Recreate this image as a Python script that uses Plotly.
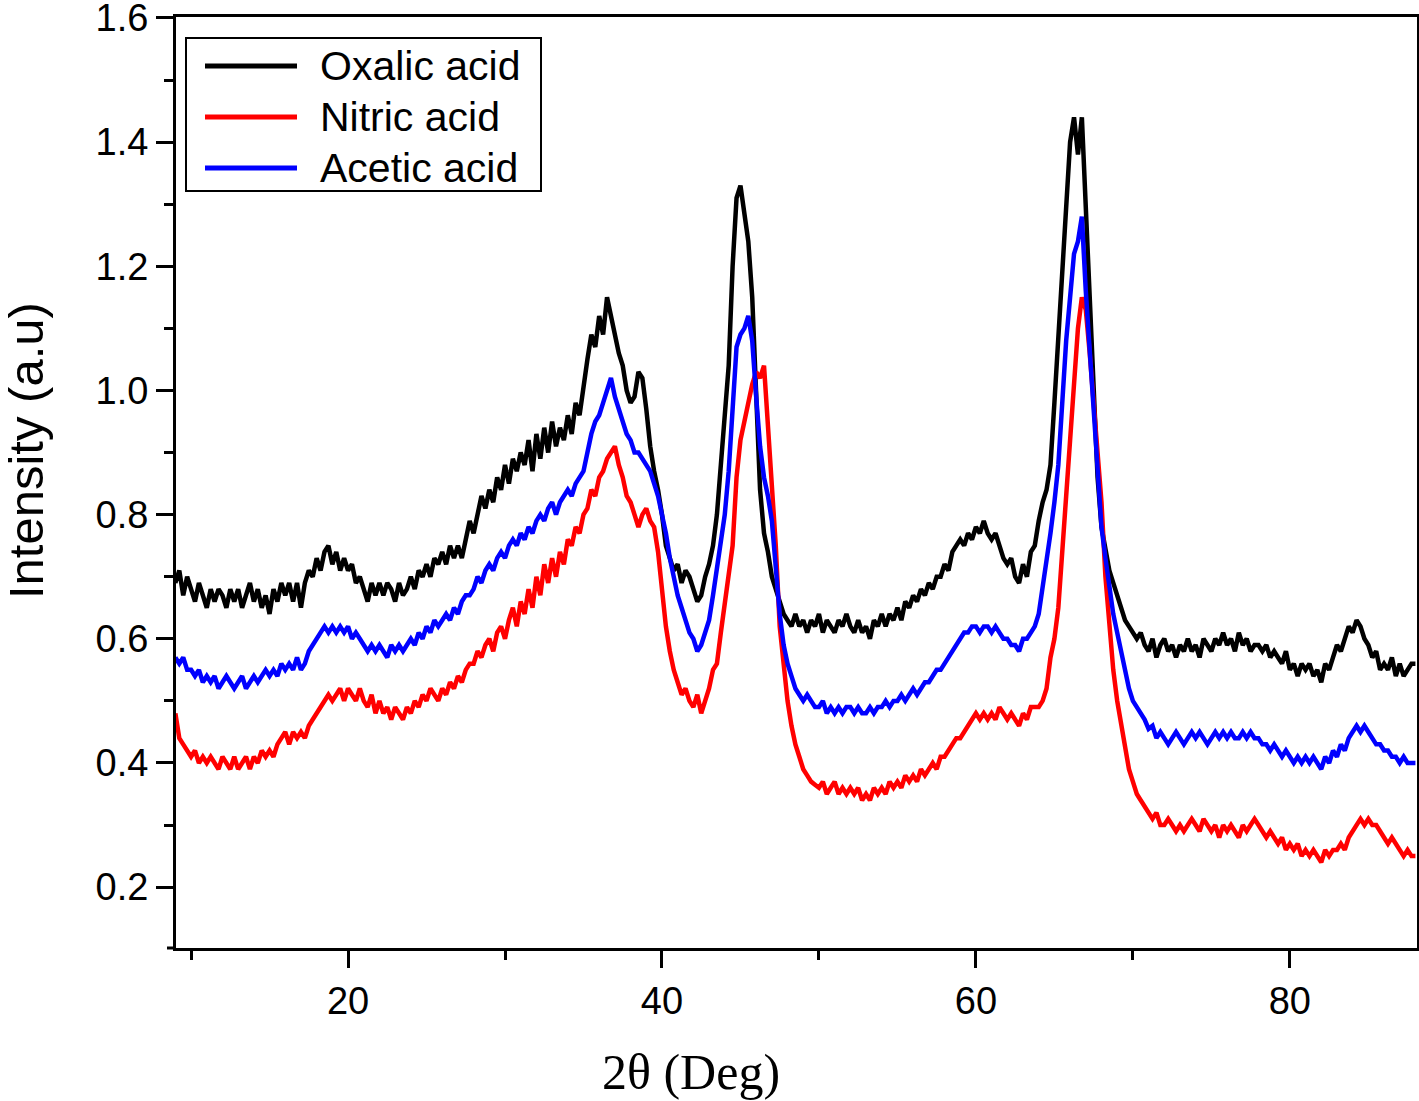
import plotly.graph_objects as go

# ---------------- data ----------------
two_theta_start, two_theta_step, n_points = 9.0, 0.25, 317
two_theta = [two_theta_start + two_theta_step * i for i in range(n_points)]

series_names = ["Oxalic acid", "Nitric acid", "Acetic acid"]
series_colors = ["#000000", "#ff0000", "#0000ff"]

oxalic = [
    0.69, 0.71, 0.67, 0.70,  # 9
    0.68, 0.66, 0.69, 0.67,  # 10
    0.65, 0.68, 0.66, 0.68,  # 11
    0.67, 0.65, 0.68, 0.66,  # 12
    0.68, 0.65, 0.67, 0.69,  # 13
    0.66, 0.68, 0.65, 0.67,  # 14
    0.64, 0.68, 0.66, 0.69,  # 15
    0.67, 0.69, 0.66, 0.69,  # 16
    0.65, 0.69, 0.71, 0.70,  # 17
    0.73, 0.71, 0.74, 0.75,  # 18
    0.72, 0.74, 0.71, 0.73,  # 19
    0.71, 0.72, 0.69, 0.70,  # 20
    0.68, 0.66, 0.69, 0.67,  # 21
    0.69, 0.67, 0.69, 0.68,  # 22
    0.66, 0.69, 0.67, 0.68,  # 23
    0.70, 0.68, 0.71, 0.70,  # 24
    0.72, 0.70, 0.73, 0.72,  # 25
    0.74, 0.72, 0.75, 0.73,  # 26
    0.75, 0.73, 0.76, 0.79,  # 27
    0.77, 0.80, 0.83, 0.81,  # 28
    0.84, 0.82, 0.86, 0.84,  # 29
    0.88, 0.85, 0.89, 0.87,  # 30
    0.90, 0.88, 0.92, 0.87,  # 31
    0.93, 0.89, 0.94, 0.90,  # 32
    0.95, 0.91, 0.94, 0.92,  # 33
    0.96, 0.93, 0.98, 0.96,  # 34
    1.01, 1.05, 1.09, 1.07,  # 35
    1.12, 1.09, 1.15, 1.12,  # 36
    1.09, 1.06, 1.04, 1.00,  # 37
    0.98, 0.99, 1.03, 1.02,  # 38
    0.97, 0.91, 0.87, 0.84,  # 39
    0.80, 0.75, 0.73, 0.71,  # 40
    0.72, 0.69, 0.71, 0.70,  # 41
    0.68, 0.66, 0.67, 0.70,  # 42
    0.72, 0.75, 0.80, 0.88,  # 43
    0.95, 1.04, 1.20, 1.31,  # 44
    1.33, 1.29, 1.24, 1.15,  # 45
    0.98, 0.84, 0.77, 0.74,  # 46
    0.70, 0.68, 0.66, 0.64,  # 47
    0.63, 0.62, 0.64, 0.62,  # 48
    0.63, 0.61, 0.63, 0.62,  # 49
    0.64, 0.61, 0.63, 0.62,  # 50
    0.61, 0.63, 0.62, 0.64,  # 51
    0.62, 0.61, 0.63, 0.61,  # 52
    0.62, 0.60, 0.63, 0.62,  # 53
    0.64, 0.62, 0.64, 0.63,  # 54
    0.65, 0.63, 0.66, 0.65,  # 55
    0.67, 0.66, 0.68, 0.67,  # 56
    0.69, 0.68, 0.70, 0.70,  # 57
    0.72, 0.71, 0.74, 0.75,  # 58
    0.76, 0.75, 0.77, 0.76,  # 59
    0.78, 0.77, 0.79, 0.77,  # 60
    0.76, 0.77, 0.75, 0.73,  # 61
    0.72, 0.73, 0.70, 0.69,  # 62
    0.72, 0.70, 0.74, 0.75,  # 63
    0.79, 0.82, 0.84, 0.88,  # 64
    0.98, 1.08, 1.18, 1.30,  # 65
    1.40, 1.44, 1.38, 1.44,  # 66
    1.30, 1.12, 0.98, 0.86,  # 67
    0.78, 0.74, 0.71, 0.69,  # 68
    0.67, 0.65, 0.63, 0.62,  # 69
    0.61, 0.60, 0.61, 0.59,  # 70
    0.58, 0.60, 0.57, 0.59,  # 71
    0.60, 0.58, 0.59, 0.57,  # 72
    0.59, 0.58, 0.60, 0.58,  # 73
    0.59, 0.57, 0.60, 0.59,  # 74
    0.58, 0.60, 0.59, 0.61,  # 75
    0.59, 0.60, 0.58, 0.61,  # 76
    0.59, 0.60, 0.58, 0.59,  # 77
    0.59, 0.58, 0.59, 0.57,  # 78
    0.58, 0.57, 0.56, 0.58,  # 79
    0.55, 0.56, 0.54, 0.56,  # 80
    0.55, 0.56, 0.54, 0.55,  # 81
    0.53, 0.56, 0.55, 0.57,  # 82
    0.59, 0.58, 0.60, 0.62,  # 83
    0.61, 0.63, 0.62, 0.60,  # 84
    0.59, 0.57, 0.58, 0.55,  # 85
    0.56, 0.55, 0.57, 0.54,  # 86
    0.56, 0.54, 0.55, 0.56,  # 87
    0.56,                    # 88
]

nitric = [
    0.48, 0.44, 0.43, 0.42,  # 9
    0.41, 0.42, 0.40, 0.41,  # 10
    0.40, 0.41, 0.40, 0.39,  # 11
    0.41, 0.40, 0.39, 0.41,  # 12
    0.39, 0.40, 0.41, 0.39,  # 13
    0.41, 0.40, 0.42, 0.41,  # 14
    0.42, 0.41, 0.43, 0.44,  # 15
    0.45, 0.43, 0.45, 0.44,  # 16
    0.45, 0.44, 0.46, 0.47,  # 17
    0.48, 0.49, 0.50, 0.51,  # 18
    0.50, 0.51, 0.52, 0.50,  # 19
    0.52, 0.51, 0.50, 0.52,  # 20
    0.50, 0.49, 0.51, 0.48,  # 21
    0.50, 0.48, 0.49, 0.47,  # 22
    0.49, 0.48, 0.47, 0.49,  # 23
    0.48, 0.50, 0.49, 0.51,  # 24
    0.50, 0.52, 0.51, 0.50,  # 25
    0.52, 0.51, 0.53, 0.52,  # 26
    0.54, 0.53, 0.55, 0.56,  # 27
    0.56, 0.58, 0.57, 0.59,  # 28
    0.60, 0.58, 0.61, 0.62,  # 29
    0.60, 0.63, 0.65, 0.62,  # 30
    0.66, 0.64, 0.68, 0.65,  # 31
    0.70, 0.67, 0.72, 0.69,  # 32
    0.73, 0.70, 0.74, 0.72,  # 33
    0.76, 0.75, 0.78, 0.77,  # 34
    0.80, 0.81, 0.84, 0.83,  # 35
    0.86, 0.87, 0.89, 0.90,  # 36
    0.91, 0.88, 0.86, 0.83,  # 37
    0.82, 0.80, 0.78, 0.80,  # 38
    0.81, 0.79, 0.78, 0.74,  # 39
    0.68, 0.62, 0.58, 0.55,  # 40
    0.53, 0.51, 0.52, 0.50,  # 41
    0.49, 0.51, 0.48, 0.50,  # 42
    0.52, 0.55, 0.56, 0.61,  # 43
    0.66, 0.70, 0.75, 0.86,  # 44
    0.92, 0.95, 0.98, 1.01,  # 45
    1.03, 1.02, 1.04, 0.95,  # 46
    0.85, 0.75, 0.62, 0.55,  # 47
    0.50, 0.46, 0.43, 0.41,  # 48
    0.39, 0.38, 0.37, 0.365,  # 49
    0.36, 0.37, 0.35, 0.36,  # 50
    0.37, 0.35, 0.36, 0.35,  # 51
    0.36, 0.35, 0.36, 0.34,  # 52
    0.35, 0.34, 0.36, 0.35,  # 53
    0.36, 0.35, 0.37, 0.36,  # 54
    0.37, 0.36, 0.38, 0.37,  # 55
    0.38, 0.37, 0.39, 0.38,  # 56
    0.39, 0.40, 0.39, 0.41,  # 57
    0.41, 0.42, 0.43, 0.44,  # 58
    0.44, 0.45, 0.46, 0.47,  # 59
    0.48, 0.47, 0.48, 0.47,  # 60
    0.48, 0.47, 0.49, 0.48,  # 61
    0.47, 0.48, 0.47, 0.46,  # 62
    0.48, 0.47, 0.49, 0.49,  # 63
    0.49, 0.50, 0.52, 0.57,  # 64
    0.60, 0.65, 0.75, 0.83,  # 65
    0.92, 1.02, 1.10, 1.15,  # 66
    1.13, 1.06, 0.98, 0.90,  # 67
    0.82, 0.70, 0.62, 0.55,  # 68
    0.50, 0.46, 0.42, 0.39,  # 69
    0.37, 0.35, 0.34, 0.33,  # 70
    0.32, 0.31, 0.32, 0.30,  # 71
    0.30, 0.31, 0.30, 0.29,  # 72
    0.30, 0.29, 0.30, 0.31,  # 73
    0.30, 0.29, 0.31, 0.30,  # 74
    0.29, 0.30, 0.28, 0.30,  # 75
    0.29, 0.30, 0.29, 0.28,  # 76
    0.30, 0.29, 0.30, 0.31,  # 77
    0.30, 0.29, 0.28, 0.29,  # 78
    0.28, 0.27, 0.28, 0.26,  # 79
    0.27, 0.26, 0.27, 0.25,  # 80
    0.26, 0.25, 0.26, 0.25,  # 81
    0.24, 0.26, 0.25, 0.26,  # 82
    0.26, 0.27, 0.26, 0.28,  # 83
    0.29, 0.30, 0.31, 0.30,  # 84
    0.31, 0.30, 0.30, 0.29,  # 85
    0.28, 0.27, 0.28, 0.27,  # 86
    0.26, 0.25, 0.26, 0.25,  # 87
    0.25,                    # 88
]

acetic = [
    0.57, 0.56, 0.57, 0.55,  # 9
    0.55, 0.54, 0.55, 0.53,  # 10
    0.54, 0.53, 0.54, 0.52,  # 11
    0.53, 0.54, 0.53, 0.52,  # 12
    0.53, 0.54, 0.52, 0.53,  # 13
    0.54, 0.53, 0.54, 0.55,  # 14
    0.54, 0.55, 0.54, 0.56,  # 15
    0.55, 0.56, 0.55, 0.57,  # 16
    0.55, 0.56, 0.58, 0.59,  # 17
    0.60, 0.61, 0.62, 0.61,  # 18
    0.62, 0.61, 0.62, 0.61,  # 19
    0.62, 0.60, 0.61, 0.60,  # 20
    0.59, 0.58, 0.59, 0.58,  # 21
    0.59, 0.58, 0.57, 0.59,  # 22
    0.58, 0.59, 0.58, 0.59,  # 23
    0.60, 0.59, 0.61, 0.60,  # 24
    0.62, 0.61, 0.63, 0.62,  # 25
    0.63, 0.64, 0.63, 0.65,  # 26
    0.64, 0.66, 0.67, 0.67,  # 27
    0.68, 0.70, 0.69, 0.71,  # 28
    0.72, 0.71, 0.73, 0.74,  # 29
    0.73, 0.75, 0.76, 0.75,  # 30
    0.77, 0.76, 0.78, 0.77,  # 31
    0.79, 0.80, 0.79, 0.81,  # 32
    0.82, 0.80, 0.82, 0.83,  # 33
    0.84, 0.83, 0.85, 0.86,  # 34
    0.87, 0.90, 0.93, 0.95,  # 35
    0.96, 0.98, 1.00, 1.02,  # 36
    0.99, 0.97, 0.95, 0.93,  # 37
    0.92, 0.90, 0.90, 0.89,  # 38
    0.88, 0.87, 0.85, 0.83,  # 39
    0.80, 0.77, 0.73, 0.70,  # 40
    0.67, 0.65, 0.63, 0.61,  # 41
    0.60, 0.58, 0.59, 0.61,  # 42
    0.63, 0.67, 0.71, 0.76,  # 43
    0.80, 0.87, 0.98, 1.07,  # 44
    1.09, 1.10, 1.12, 1.08,  # 45
    0.99, 0.91, 0.86, 0.83,  # 46
    0.79, 0.71, 0.64, 0.59,  # 47
    0.56, 0.54, 0.52, 0.51,  # 48
    0.50, 0.51, 0.50, 0.49,  # 49
    0.49, 0.50, 0.48, 0.49,  # 50
    0.48, 0.49, 0.48, 0.49,  # 51
    0.49, 0.48, 0.49, 0.48,  # 52
    0.48, 0.49, 0.48, 0.49,  # 53
    0.49, 0.50, 0.49, 0.50,  # 54
    0.50, 0.51, 0.50, 0.51,  # 55
    0.52, 0.51, 0.52, 0.53,  # 56
    0.53, 0.54, 0.55, 0.55,  # 57
    0.56, 0.57, 0.58, 0.59,  # 58
    0.60, 0.61, 0.61, 0.62,  # 59
    0.62, 0.61, 0.62, 0.62,  # 60
    0.61, 0.62, 0.61, 0.60,  # 61
    0.60, 0.59, 0.59, 0.58,  # 62
    0.60, 0.60, 0.61, 0.62,  # 63
    0.64, 0.68, 0.72, 0.77,  # 64
    0.82, 0.88, 0.98, 1.08,  # 65
    1.15, 1.22, 1.24, 1.28,  # 66
    1.16, 1.06, 0.97, 0.86,  # 67
    0.78, 0.73, 0.68, 0.64,  # 68
    0.61, 0.58, 0.55, 0.52,  # 69
    0.50, 0.49, 0.48, 0.47,  # 70
    0.455, 0.46, 0.44, 0.45,  # 71
    0.44, 0.43, 0.44, 0.45,  # 72
    0.44, 0.43, 0.44, 0.45,  # 73
    0.44, 0.45, 0.44, 0.43,  # 74
    0.44, 0.45, 0.44, 0.45,  # 75
    0.44, 0.45, 0.44, 0.44,  # 76
    0.45, 0.44, 0.45, 0.44,  # 77
    0.44, 0.43, 0.43, 0.42,  # 78
    0.43, 0.42, 0.41, 0.42,  # 79
    0.41, 0.40, 0.41, 0.40,  # 80
    0.41, 0.40, 0.41, 0.40,  # 81
    0.39, 0.41, 0.40, 0.42,  # 82
    0.41, 0.43, 0.42, 0.44,  # 83
    0.45, 0.46, 0.45, 0.46,  # 84
    0.45, 0.44, 0.43, 0.43,  # 85
    0.42, 0.42, 0.41, 0.41,  # 86
    0.40, 0.41, 0.40, 0.40,  # 87
    0.40,                    # 88
]

x_range = [9.04, 88.1]
y_range = [0.102, 1.6015]
x_major_ticks = [20, 40, 60, 80]
x_minor_ticks = [10, 30, 50, 70]
y_major_ticks = [0.2, 0.4, 0.6, 0.8, 1.0, 1.2, 1.4, 1.6]
y_minor_ticks = [0.3, 0.5, 0.7, 0.9, 1.1, 1.3, 1.5]

assert len(oxalic) == len(nitric) == len(acetic) == n_points

# ---------------- layout geometry (pixels) ----------------
W, H = 1419, 1101
PL, PR, PT, PB = 176, 1417, 17, 948


def px_x(px):
    return (px - PL) / (PR - PL)


def px_y(py):
    return (PB - py) / (PB - PT)


fig = go.Figure()
for name, ys, col in zip(series_names, [oxalic, nitric, acetic], series_colors):
    fig.add_trace(go.Scatter(x=two_theta, y=ys, mode="lines", name=name,
                             line=dict(color=col, width=4.5), showlegend=False))

axis_font = dict(family="Liberation Sans, Arial, sans-serif", size=38, color="black")
tick_style = dict(showgrid=False, zeroline=False, showline=True, linecolor="black",
                  linewidth=3, mirror=True, ticks="outside", ticklen=17,
                  tickwidth=3, tickcolor="black", tickfont=axis_font,
                  ticklabeloverflow="allow", automargin=False)

fig.update_layout(
    width=W, height=H,
    margin=dict(l=PL, r=W - PR, t=PT, b=H - PB, pad=0, autoexpand=False),
    paper_bgcolor="white", plot_bgcolor="white",
    showlegend=False,
    xaxis=dict(range=x_range, tickvals=x_major_ticks,
               minor=dict(tickvals=x_minor_ticks, ticks="outside", ticklen=9,
                          tickwidth=3, tickcolor="black"),
               **tick_style),
    yaxis=dict(range=y_range, tickvals=y_major_ticks, tickformat=".1f",
               minor=dict(tickvals=y_minor_ticks, ticks="outside", ticklen=9,
                          tickwidth=3, tickcolor="black"),
               **tick_style),
)

# small frame overhang seen at the bottom-left corner
fig.add_shape(type="line", xref="paper", yref="paper",
              x0=px_x(167), x1=px_x(176), y0=px_y(PB), y1=px_y(PB),
              line=dict(color="black", width=3))

# Axis titles (placed like the reference)
fig.add_annotation(text="Intensity (a.u)", xref="paper", yref="paper",
                   x=px_x(26), y=px_y(451), xanchor="center", yanchor="middle",
                   textangle=-90, showarrow=False,
                   font=dict(family="Liberation Sans, Arial, sans-serif", size=49, color="black"))
fig.add_annotation(text="2θ (Deg)", xref="paper", yref="paper",
                   x=px_x(691), y=px_y(1072), xanchor="center", yanchor="middle",
                   showarrow=False,
                   font=dict(family="Liberation Serif, Times New Roman, serif", size=50, color="black"))

# Legend box drawn to match the reference's long line samples
fig.add_shape(type="rect", xref="paper", yref="paper",
              x0=px_x(186), x1=px_x(541), y0=px_y(191), y1=px_y(38),
              line=dict(color="black", width=2), fillcolor="white", layer="above")
legend_rows = [66, 117, 168]
for name, col, ry in zip(series_names, series_colors, legend_rows):
    fig.add_shape(type="line", xref="paper", yref="paper",
                  x0=px_x(205), x1=px_x(297), y0=px_y(ry), y1=px_y(ry),
                  line=dict(color=col, width=5), layer="above")
    fig.add_annotation(text=name, xref="paper", yref="paper",
                       x=px_x(318), y=px_y(ry), xanchor="left", yanchor="middle",
                       showarrow=False,
                       font=dict(family="Liberation Sans, Arial, sans-serif", size=41, color="black"))

fig.write_html("out.html", config={"displayModeBar": False},
               post_script="document.body.style.margin='0';document.body.style.overflow='hidden';")
